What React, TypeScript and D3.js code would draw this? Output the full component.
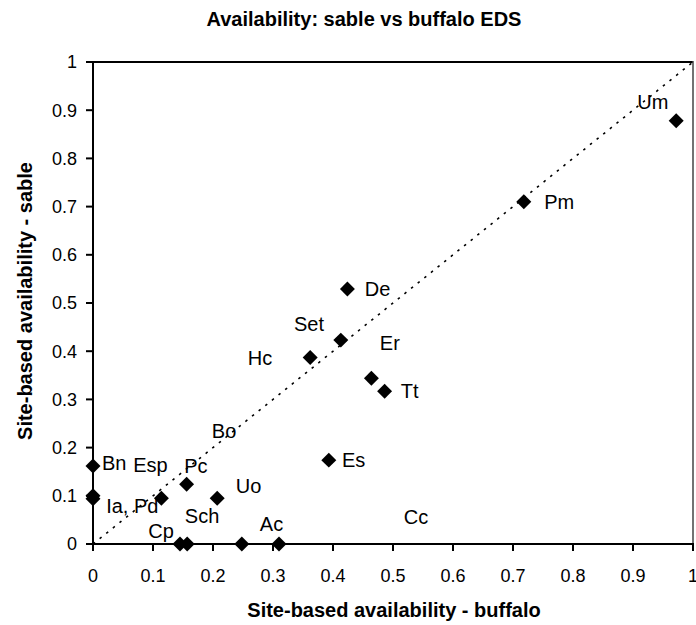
import React from "react";
import * as d3 from "d3";

// Site-based availability of each species, as seen by buffalo (x) and sable (y)
const BUFFALO = [0.972, 0.718, 0.424, 0.413, 0.362, 0.464, 0.486, 0.393, 0, 0, 0, 0.114, 0.156, 0.207, 0.145, 0.157, 0.248, 0.31];
const SABLE = [0.878, 0.71, 0.529, 0.423, 0.387, 0.344, 0.317, 0.174, 0.162, 0.1, 0.094, 0.095, 0.124, 0.095, 0, 0, 0, 0];

// Species annotations, anchored in data units (start of text, baseline)
const LABEL_TEXT = ["Um", "Pm", "De", "Set", "Er", "Hc", "Tt", "Bo", "Es", "Bn", "Esp", "Pc", "Uo", "Ia, Pd", "Sch", "Cp", "Ac", "Cc"];
const LABEL_BUFFALO = [0.907, 0.752, 0.453, 0.335, 0.478, 0.258, 0.513, 0.198, 0.415, 0.015, 0.067, 0.152, 0.238, 0.022, 0.153, 0.092, 0.278, 0.518];
const LABEL_SABLE = [0.902, 0.695, 0.515, 0.442, 0.402, 0.371, 0.303, 0.22, 0.16, 0.154, 0.149, 0.147, 0.106, 0.064, 0.044, 0.012, 0.027, 0.041];

const TICKS = [0, 0.1, 0.2, 0.3, 0.4, 0.5, 0.6, 0.7, 0.8, 0.9, 1];
const TICK_LABELS = ["0", "0.1", "0.2", "0.3", "0.4", "0.5", "0.6", "0.7", "0.8", "0.9", "1"];

const TITLE = "Availability: sable vs buffalo EDS";
const X_TITLE = "Site-based availability - buffalo";
const Y_TITLE = "Site-based availability - sable";

const W = 696;
const H = 625;
const M = { left: 93, top: 62, right: 693, bottom: 544 };
const FONT = "'Liberation Sans', Arial, Helvetica, sans-serif";

export default function App() {
  const x = d3.scaleLinear().domain([0, 1]).range([M.left, M.right]);
  const y = d3.scaleLinear().domain([0, 1]).range([M.bottom, M.top]);
  const diamond = d3.symbol().type(d3.symbolSquare).size(112)();
  const points = BUFFALO.map((b, i) => ({ b, s: SABLE[i] }));
  const labels = LABEL_TEXT.map((t, i) => ({ t, b: LABEL_BUFFALO[i], s: LABEL_SABLE[i] }));

  return (
    <div style={{ position: "absolute", left: 0, top: 0 }}>
      <svg width={W} height={H} style={{ display: "block", background: "#fff" }} fontFamily={FONT}>
        <defs>
          <clipPath id="ytitle-clip">
            <rect x={0} y={163} width={60} height={400} />
          </clipPath>
        </defs>
        <text x={364} y={26} textAnchor="middle" fontSize={20} fontWeight="bold">
          {TITLE}
        </text>

        {/* plot frame */}
        <line x1={x(0)} x2={x(1)} y1={y(1)} y2={y(1)} stroke="#000" strokeWidth={2} />
        <line x1={x(1)} x2={x(1)} y1={y(1) - 1} y2={y(0)} stroke="#444" strokeWidth={1.5} />

        {/* identity line */}
        <line
          x1={x(0)}
          y1={y(0)}
          x2={x(1)}
          y2={y(1)}
          stroke="#000"
          strokeWidth={1.6}
          strokeDasharray="2.5,6"
        />

        {/* axes */}
        <line x1={x(0)} x2={x(0)} y1={y(1) - 1} y2={y(0) + 1} stroke="#000" strokeWidth={2} />
        <line x1={x(0) - 1} x2={x(1) + 1} y1={y(0)} y2={y(0)} stroke="#000" strokeWidth={2} />
        {TICKS.map((t, i) => (
          <g key={"yt" + i}>
            <line x1={x(0) - 7} x2={x(0)} y1={y(t)} y2={y(t)} stroke="#000" strokeWidth={2} />
            <text x={77} y={y(t)} dy="0.35em" textAnchor="end" fontSize={18}>
              {TICK_LABELS[i]}
            </text>
          </g>
        ))}
        {TICKS.map((t, i) => (
          <g key={"xt" + i}>
            <line x1={x(t)} x2={x(t)} y1={y(0)} y2={y(0) + 7} stroke="#000" strokeWidth={2} />
            <text x={x(t)} y={582} textAnchor="middle" fontSize={18}>
              {TICK_LABELS[i]}
            </text>
          </g>
        ))}

        {/* species points */}
        {points.map((p, i) => (
          <path
            key={"p" + i}
            d={diamond || ""}
            transform={`translate(${x(p.b)},${y(p.s)}) rotate(45)`}
            fill="#000"
          />
        ))}

        {/* species labels */}
        {labels.map((l, i) => (
          <text key={"l" + i} x={x(l.b)} y={y(l.s)} fontSize={20}>
            {l.t}
          </text>
        ))}

        <text x={394} y={617} textAnchor="middle" fontSize={20} fontWeight="bold">
          {X_TITLE}
        </text>
        <g clipPath="url(#ytitle-clip)">
          <text
            transform={`translate(32,301) rotate(-90)`}
            textAnchor="middle"
            fontSize={20}
            fontWeight="bold"
          >
            {Y_TITLE}
          </text>
        </g>
      </svg>
    </div>
  );
}
